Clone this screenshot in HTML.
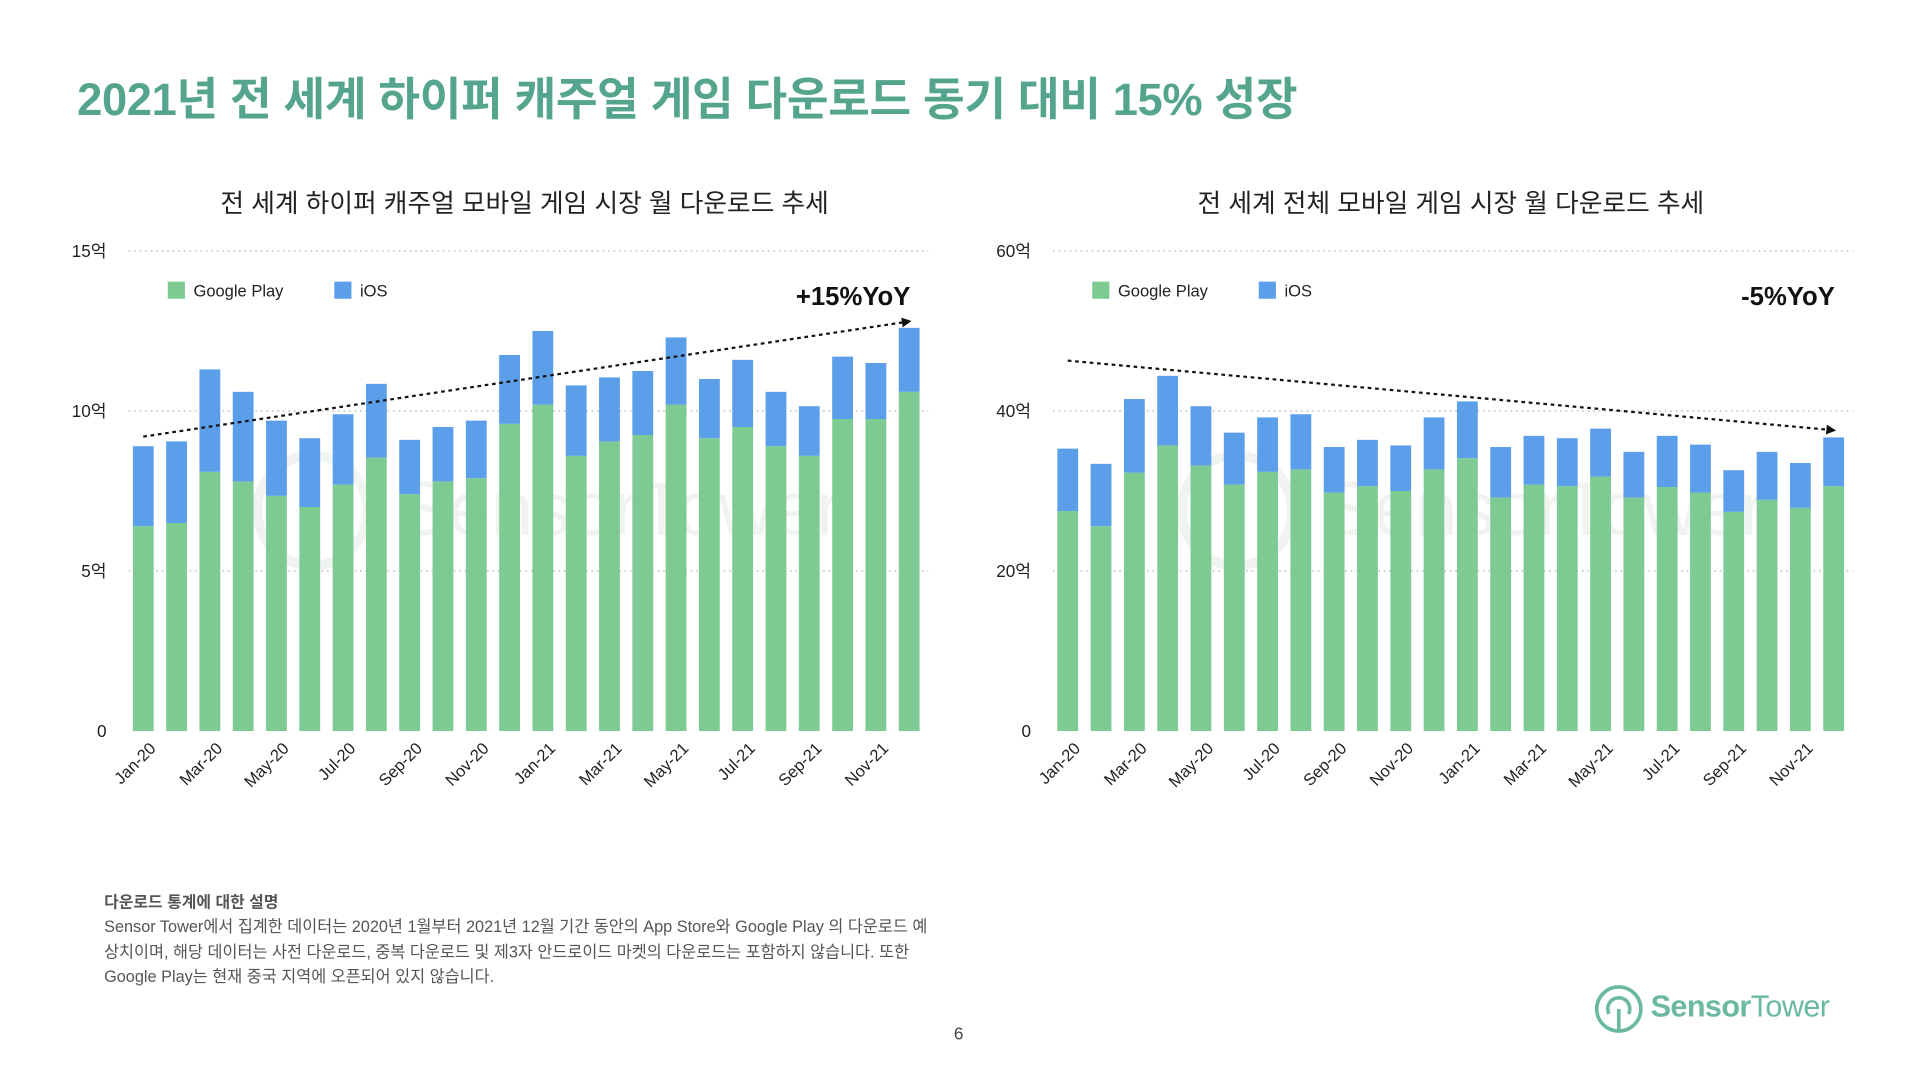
<!DOCTYPE html>
<html><head><meta charset="utf-8">
<style>
html,body{margin:0;padding:0;background:#fff;width:1920px;height:1080px;overflow:hidden}
#wrap{position:absolute;left:0;top:0;width:1568px;height:882px;transform:scale(1.22449);transform-origin:0 0;font-family:"Liberation Sans","Noto Sans CJK KR",sans-serif}
.t{position:absolute;white-space:nowrap}
</style></head><body>
<div id="wrap">
<div class="t" style="left:63px;top:51px;font-size:37px;font-weight:bold;color:#55a58e;letter-spacing:-0.3px">2021년 전 세계 하이퍼 캐주얼 게임 다운로드 동기 대비 15% 성장</div>
<div class="t" style="left:180px;top:150px;font-size:21px;color:#222">전 세계 하이퍼 캐주얼 모바일 게임 시장 월 다운로드 추세</div>
<div class="t" style="left:978px;top:150px;font-size:21px;color:#222">전 세계 전체 모바일 게임 시장 월 다운로드 추세</div>
<svg id="chart" width="1568" height="882" style="position:absolute;left:0;top:0"></svg>
<div class="t" style="left:85px;top:726px;font-size:13px;font-weight:bold;color:#555">다운로드 통계에 대한 설명</div>
<div class="t" style="left:85px;top:747px;font-size:13.3px;line-height:20.5px;color:#555">Sensor Tower에서 집계한 데이터는 2020년 1월부터 2021년 12월 기간 동안의 App Store와 Google Play 의 다운로드 예<br>상치이며, 해당 데이터는 사전 다운로드, 중복 다운로드 및 제3자 안드로이드 마켓의 다운로드는 포함하지 않습니다. 또한<br>Google Play는 현재 중국 지역에 오픈되어 있지 않습니다.</div>
<div class="t" style="left:779px;top:836px;font-size:14px;color:#444">6</div>
<div style="position:absolute;left:1302px;top:803px;width:220px;height:42px">
<svg width="40" height="42" style="position:absolute;left:0;top:0"><circle cx="20" cy="21" r="18" fill="none" stroke="#6bb9a2" stroke-width="3"/><path d="M12 25 A9 9 0 1 1 28 25" fill="none" stroke="#6bb9a2" stroke-width="3"/><line x1="20" y1="21" x2="20" y2="38" stroke="#6bb9a2" stroke-width="3"/></svg>
<div class="t" style="left:46px;top:5px;font-size:25px;color:#6bb9a2;letter-spacing:-0.5px"><b>Sensor</b>Tower</div>
</div>
</div>
<script>
const months=["Jan-20","Feb-20","Mar-20","Apr-20","May-20","Jun-20","Jul-20","Aug-20","Sep-20","Oct-20","Nov-20","Dec-20","Jan-21","Feb-21","Mar-21","Apr-21","May-21","Jun-21","Jul-21","Aug-21","Sep-21","Oct-21","Nov-21","Dec-21"];
const hcGoogle=[6.4,6.5,8.1,7.8,7.35,7.0,7.7,8.55,7.4,7.8,7.9,9.6,10.2,8.6,9.05,9.25,10.2,9.15,9.5,8.9,8.6,9.75,9.75,10.6];
const hcIos=[2.5,2.55,3.2,2.8,2.35,2.15,2.2,2.3,1.7,1.7,1.8,2.15,2.3,2.2,2.0,2.0,2.1,1.85,2.1,1.7,1.55,1.95,1.75,2.0];
const allGoogle=[27.5,25.6,32.3,35.7,33.2,30.8,32.4,32.7,29.8,30.6,30.0,32.7,34.1,29.2,30.8,30.6,31.8,29.2,30.5,29.8,27.4,28.9,27.9,30.6];
const allIos=[7.8,7.8,9.2,8.7,7.4,6.5,6.8,6.9,5.7,5.8,5.7,6.5,7.1,6.3,6.1,6.0,6.0,5.7,6.4,6.0,5.2,6.0,5.6,6.1];
const hcTicks=["0","5억","10억","15억"];
const allTicks=["0","20억","40억","60억"];
const hcMax=15, allMax=60;
const svg=document.getElementById('chart');const NS="http://www.w3.org/2000/svg";
function mk(tag,attrs,parent){const e=document.createElementNS(NS,tag);for(const k in attrs)e.setAttribute(k,attrs[k]);(parent||svg).appendChild(e);return e;}
const defs=mk('defs',{});
const mkr=mk('marker',{id:'arr',markerWidth:8,markerHeight:8,refX:6,refY:4,orient:'auto',markerUnits:'userSpaceOnUse'},defs);
mk('path',{d:'M0,0 L8,4 L0,8 z',fill:'#111'},mkr);
function drawChart(prefix,x0,g,io,ticks,max,yoy,trend,legX){
  const y0=597,h=392;const left=x0,right=x0+653;
  const yS=v=>y0-v/max*h;
  const step=(625.5)/23;const xS=i=>x0+12+i*step;
  ticks.forEach((t,i)=>{const v=max*i/(ticks.length-1);const y=yS(v);
    if(i>0){const l=mk('line',{x1:left,x2:right,y1:y,y2:y,stroke:'#bbb','stroke-dasharray':'1.5,3'});
    
    }
    const tx=mk('text',{x:left-18,y:y+5,'text-anchor':'end','font-size':14,fill:'#222'});tx.textContent=t;
    
    });
  const wm=mk('text',{x:x0+220,y:y0-160,'font-size':62,fill:'#f1f3f1','font-family':'Liberation Sans'});wm.textContent='SensorTower';
  
  
  mk('circle',{cx:x0+150,cy:y0-180,r:45,fill:'none',stroke:'#f1f3f1','stroke-width':8});
  months.forEach((m,i)=>{const cx=xS(i),w=17;
    const r1=mk('rect',{x:cx-w/2,y:yS(g[i]),width:w,height:y0-yS(g[i]),fill:'#7dcb93'});
    
    
    const r2=mk('rect',{x:cx-w/2,y:yS(g[i]+io[i]),width:w,height:yS(g[i])-yS(g[i]+io[i]),fill:'#5b9ee9'});
    
    
    if(i%2===0){const ax=cx+11,ay=612;const t=mk('text',{x:ax,y:ay,'text-anchor':'end','font-size':13.5,fill:'#222',transform:`rotate(-45 ${ax} ${ay})`});t.textContent=m;
      
      }
  });
  const tl=mk('line',{x1:xS(0),y1:yS(trend[0]),x2:xS(23),y2:yS(trend[1]),stroke:'#111','stroke-width':1.8,'stroke-dasharray':'3,3','marker-end':'url(#arr)'});
  
  
  const ls=[['Google Play','#7dcb93',legX],['iOS','#5b9ee9',legX+136]];
  ls.forEach(l=>{const r=mk('rect',{x:l[2],y:230,width:14,height:14,fill:l[1]});
    
    
    const t=mk('text',{x:l[2]+21,y:242,'font-size':13.5,fill:'#222'});t.textContent=l[0];
    
    });
  const y=mk('text',{x:xS(23)+1,y:249,'text-anchor':'end','font-size':21,'font-weight':'bold',fill:'#111'});y.textContent=yoy;
  
  
}
drawChart('hypercasual',105,hcGoogle,hcIos,hcTicks,hcMax,'+15%YoY',[9.2,12.8],137);
drawChart('all-games',860,allGoogle,allIos,allTicks,allMax,'-5%YoY',[46.3,37.6],892);
</script>
</body></html>
